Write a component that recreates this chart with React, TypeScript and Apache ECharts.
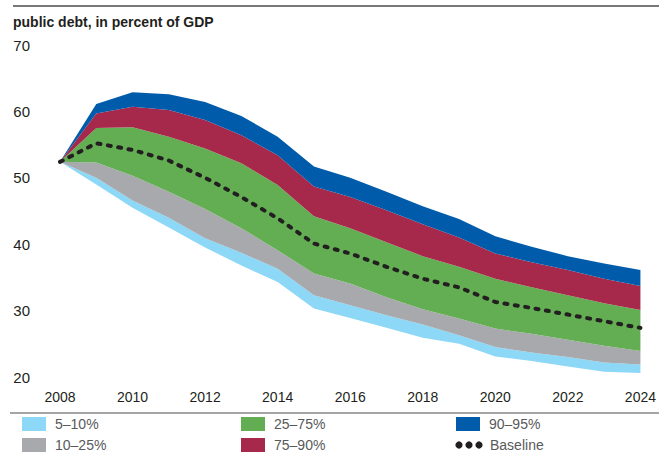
import React, { useEffect, useRef } from "react";
import * as echarts from "echarts";

const years = ["2008","2009","2010","2011","2012","2013","2014","2015","2016","2017","2018","2019","2020","2021","2022","2023","2024"];
const p5 = [52.4, 49.0, 45.5, 42.5, 39.5, 36.8, 34.3, 30.3, 28.9, 27.4, 25.9, 25.0, 23.1, 22.4, 21.6, 20.8, 20.6];
const p10 = [52.4, 50.0, 46.6, 44.0, 40.9, 38.7, 36.3, 32.3, 30.8, 29.3, 27.9, 26.3, 24.5, 23.7, 23.0, 22.2, 21.9];
const p25 = [52.4, 52.3, 50.3, 47.9, 45.3, 42.4, 39.1, 35.6, 34.1, 32.0, 30.2, 28.8, 27.3, 26.5, 25.6, 24.7, 23.9];
const p75 = [52.4, 57.5, 57.6, 56.2, 54.4, 52.2, 48.9, 44.2, 42.4, 40.3, 38.2, 36.6, 34.8, 33.5, 32.3, 31.1, 30.1];
const p90 = [52.4, 59.7, 60.7, 60.2, 58.7, 56.4, 53.4, 48.7, 47.1, 45.1, 43.0, 41.0, 38.6, 37.3, 36.1, 34.8, 33.7];
const p95 = [52.4, 61.1, 62.9, 62.6, 61.4, 59.3, 56.2, 51.7, 50.0, 47.9, 45.7, 43.8, 41.2, 39.6, 38.2, 37.1, 36.1];
const baseline = [52.4, 55.2, 54.2, 52.6, 50.0, 47.1, 43.9, 40.1, 38.6, 36.6, 34.8, 33.5, 31.3, 30.4, 29.4, 28.4, 27.4];

const bandNames = ["5–10%", "10–25%", "25–75%", "75–90%", "90–95%"];
const bandColors = ["#8dd7f7", "#a7a9ac", "#63ae53", "#a6294b", "#005baa"];
const yTicks = { min: 20, max: 70, interval: 10 };
const title = "public debt, in percent of GDP";

const FONT = "'Liberation Sans', Arial, sans-serif";

export default function App() {
  const ref = useRef<HTMLDivElement>(null);
  useEffect(() => {
    if (!ref.current) return;
    const chart = echarts.init(ref.current, undefined, { renderer: "svg" });
    const lower = [p5, p10, p25, p75, p90];
    const upper = [p10, p25, p75, p90, p95];
    const diff = (a: number[], b: number[]) => a.map((v, i) => +(v - b[i]).toFixed(2));

    const series: any[] = [
      {
        name: "base",
        type: "line",
        stack: "fan",
        data: p5,
        symbol: "none",
        lineStyle: { opacity: 0 },
        areaStyle: { opacity: 0 },
        silent: true,
      },
    ];
    bandNames.forEach((n, i) => {
      series.push({
        name: n,
        type: "line",
        stack: "fan",
        data: diff(upper[i], lower[i]),
        symbol: "none",
        lineStyle: { width: 0, opacity: 0 },
        areaStyle: { color: bandColors[i], opacity: 1 },
        itemStyle: { color: bandColors[i] },
      });
    });
    series.push({
      name: "Baseline",
      type: "line",
      data: baseline,
      symbol: "none",
      z: 5,
      lineStyle: { color: "#231f20", width: 4, type: [3, 7.5], cap: "round" },
    });

    const legendItems: any[] = [];
    const cols = [22, 241, 456];
    const rows = [424, 445];
    const layout = [
      [0, 0], [0, 1], [1, 0], [1, 1], [2, 0],
    ];
    bandNames.forEach((n, i) => {
      const [c, r] = layout[i];
      legendItems.push({
        type: "rect",
        shape: { x: cols[c], y: rows[r] - 7, width: 24, height: 14 },
        style: { fill: bandColors[i] },
      });
      legendItems.push({
        type: "text",
        x: cols[c] + 33,
        y: rows[r],
        style: { text: n, fill: "#58595b", font: `14px ${FONT}`, verticalAlign: "middle" },
      });
    });
    [0, 1, 2].forEach((k) => {
      legendItems.push({
        type: "circle",
        shape: { cx: cols[2] + 3 + k * 10, cy: rows[1], r: 3.6 },
        style: { fill: "#231f20" },
      });
    });
    legendItems.push({
      type: "text",
      x: cols[2] + 34,
      y: rows[1],
      style: { text: "Baseline", fill: "#58595b", font: `14px ${FONT}`, verticalAlign: "middle" },
    });

    chart.setOption({
      animation: false,
      grid: { left: 60, right: 17, top: 45, bottom: 77, containLabel: false },
      xAxis: {
        type: "category",
        data: years,
        boundaryGap: false,
        axisLine: { show: false },
        axisTick: { show: false },
        axisLabel: {
          interval: 1,
          margin: 13,
          color: "#231f20",
          fontSize: 14,
          fontFamily: FONT,
        },
        splitLine: { show: false },
      },
      yAxis: {
        type: "value",
        min: yTicks.min,
        max: yTicks.max,
        interval: yTicks.interval,
        axisLine: { show: false },
        axisTick: { show: false },
        splitLine: { show: false },
        axisLabel: {
          margin: 30,
          align: "right",
          color: "#231f20",
          fontSize: 15,
          fontFamily: FONT,
        },
      },
      series,
      graphic: [
        {
          type: "line",
          shape: { x1: 13, y1: 6, x2: 659, y2: 6 },
          style: { stroke: "#4d4d4f", lineWidth: 1.5 },
        },
        {
          type: "text",
          x: 13,
          y: 22,
          style: {
            text: title,
            fill: "#231f20",
            font: `bold 14px ${FONT}`,
            verticalAlign: "middle",
          },
        },
        {
          type: "line",
          shape: { x1: 10, y1: 413, x2: 659, y2: 413 },
          style: { stroke: "#4d4d4f", lineWidth: 1.2 },
        },
        ...legendItems,
      ],
    });
    return () => chart.dispose();
  }, []);
  return (
    <div
      ref={ref}
      style={{ position: "fixed", left: 0, top: 0, width: 659, height: 454, background: "#fff" }}
    />
  );
}
